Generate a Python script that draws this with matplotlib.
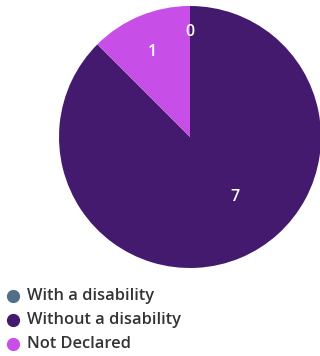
import matplotlib
matplotlib.use("Agg")
import matplotlib.pyplot as plt
import numpy as np
from matplotlib.lines import Line2D

categories = ["With a disability", "Without a disability", "Not Declared"]
values = [0, 7, 1]
colors = ["#4f7088", "#431a6e", "#c84ee8"]

W, H = 320, 356
fig = plt.figure(figsize=(W / 100, H / 100), dpi=100)
fig.patch.set_facecolor("white")

cx, cy, r = 190, 137, 131
ax = fig.add_axes([(cx - r) / W, (H - cy - r) / H, 2 * r / W, 2 * r / H])
ax.pie(values, colors=colors, startangle=90, counterclock=False,
       radius=1.0, wedgeprops=dict(linewidth=0))
ax.set_xlim(-1, 1)
ax.set_ylim(-1, 1)
ax.set_aspect("equal")
ax.axis("off")

# value labels placed inside the slices (angle in degrees, distance as fraction of radius)
label_pos = [(90, 0.80), (-53, 0.57), (114, 0.71)]
for v, (ang, d) in zip(values, label_pos):
    a = np.deg2rad(ang)
    ax.text(d * np.cos(a), d * np.sin(a), str(v), color="white",
            ha="center", va="center", fontsize=11.5, family="Open Sans", fontweight="semibold")

# legend
y0 = 296
for i, (name, c) in enumerate(zip(categories, colors)):
    y = y0 + 24 * i
    fig.add_artist(Line2D([13 / W], [1 - y / H], marker="o", markersize=8.5,
                          color=c, linestyle="none", transform=fig.transFigure))
    fig.text(27 / W, 1 - y / H, name, ha="left", va="center", fontsize=11.8,
             color="#333333", family="Open Sans", fontweight="semibold")

fig.savefig("out.png", dpi=100)
